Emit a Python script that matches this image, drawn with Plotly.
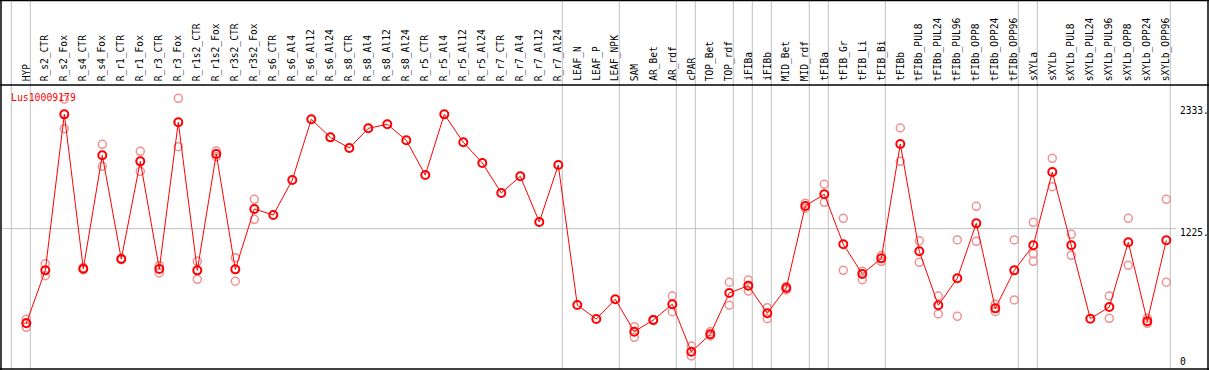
import plotly.graph_objects as go

categories = ["HYP", "R_s2_CTR", "R_s2_Fox", "R_s4_CTR", "R_s4_Fox", "R_r1_CTR", "R_r1_Fox",
              "R_r3_CTR", "R_r3_Fox", "R_r1s2_CTR", "R_r1s2_Fox", "R_r3s2_CTR", "R_r3s2_Fox",
              "R_s6_CTR", "R_s6_Al4", "R_s6_Al12", "R_s6_Al24", "R_s8_CTR", "R_s8_Al4", "R_s8_Al12",
              "R_s8_Al24", "R_r5_CTR", "R_r5_Al4", "R_r5_Al12", "R_r5_Al24", "R_r7_CTR", "R_r7_Al4",
              "R_r7_Al12", "R_r7_Al24", "LEAF_N", "LEAF_P", "LEAF_NPK", "SAM", "AR_Bet", "AR_rdf",
              "cPAR", "TOP_Bet", "TOP_rdf", "iFIBa", "iFIBb", "MID_Bet", "MID_rdf", "tFIBa",
              "tFIB_Gr", "tFIB_Li", "tFIB_Bi", "tFIBb", "tFIBb_PUL8", "tFIBb_PUL24", "tFIBb_PUL96",
              "tFIBb_OPP8", "tFIBb_OPP24", "tFIBb_OPP96", "sXYLa", "sXYLb", "sXYLb_PUL8",
              "sXYLb_PUL24", "sXYLb_PUL96", "sXYLb_OPP8", "sXYLb_OPP24", "sXYLb_OPP96"]

means = [365, 846, 2263, 861, 1891, 949, 1836, 858, 2191, 846, 1903, 855, 1403,
         1349, 1667, 2218, 2054, 1957, 2136, 2173, 2027, 1712, 2263, 2009, 1821, 1549, 1700,
         1285, 1803, 531, 404, 583, 289, 395, 538, 107, 265, 640, 707, 456, 686, 1431, 1537,
         1083, 813, 955, 1994, 1019, 529, 774, 1273, 501, 846, 1074, 1739, 1074, 407, 513,
         1101, 383, 1119]

replicates = [[401, 370, 329], [906, 797], [2400, 2133], [870, 852], [1991, 1791], [955, 943],
              [1927, 1746], [888, 822], [2409, 1969], [928, 765], [1930, 1878], [961, 747],
              [1491, 1310], [], [], [], [], [], [], [], [], [], [], [], [], [], [], [], [],
              [], [], [], [334, 238], [400, 390], [613, 470], [159, 68], [289, 250], [738, 529],
              [758, 658], [507, 407], [668, 700], [1455, 1410], [1628, 1464], [1319, 846],
              [839, 761], [928, 980], [2139, 1836], [1115, 919], [613, 450], [1122, 429],
              [1428, 1110], [538, 470], [1122, 577], [1282, 997, 928], [1864, 1606], [1173, 983],
              [], [613, 410], [1319, 892], [411, 365], [1491, 738]]

group_boundaries = [0, 1, 29, 32, 35, 36, 38, 39, 40, 42, 43, 46, 53, 54, 61]
y_ticks = [0, 1225, 2333]
y_tick_text = ["0", "1225.", "2333."]
gene_name = "Lus10009179"

W, H = 1209, 370
x_idx = list(range(len(categories)))

rx, ry = [], []
for i, reps in enumerate(replicates):
    for v in reps:
        rx.append(i)
        ry.append(v)

fig = go.Figure()
fig.add_trace(go.Scatter(x=rx, y=ry, mode="markers",
                         marker=dict(symbol="circle-open", size=8, color="rgb(238,145,145)",
                                     line=dict(width=1.5, color="rgb(238,145,145)")),
                         hoverinfo="skip", showlegend=False))
fig.add_trace(go.Scatter(x=x_idx, y=means, mode="lines+markers",
                         line=dict(color="#ff0000", width=1),
                         marker=dict(symbol="circle-open", size=8, color="#ff0000",
                                     line=dict(width=2, color="#ff0000")),
                         showlegend=False))

# pixel mapping: point i at px 26.3 + 19 i ; value v at py 363.5 - 0.1101 v
x_lo = (0 - 26.3) / 19
x_hi = (W - 26.3) / 19
y_lo = (363.5 - H) / 0.1101
y_hi = (363.5 - 0) / 0.1101

def pyp(py):
    return 1 - py / H

def pxp(px):
    return px / W

shapes = []
for k in group_boundaries:
    xb = k - 0.789
    shapes.append(dict(type="line", xref="x", yref="paper", x0=xb, x1=xb, y0=pyp(369), y1=1,
                       line=dict(color="#c0c0c0", width=1), layer="below"))
shapes.append(dict(type="line", xref="paper", yref="y", x0=pxp(1), x1=pxp(1176), y0=1225, y1=1225,
                   line=dict(color="#c0c0c0", width=1), layer="below"))
# frame
black = dict(color="#000000", width=1.5)
shapes += [
    dict(type="line", xref="paper", yref="paper", x0=0, x1=1, y0=pyp(0.5), y1=pyp(0.5), line=black),
    dict(type="line", xref="paper", yref="paper", x0=0, x1=1, y0=pyp(85), y1=pyp(85), line=black),
    dict(type="line", xref="paper", yref="paper", x0=0, x1=1, y0=pyp(369), y1=pyp(369), line=black),
    dict(type="line", xref="paper", yref="paper", x0=pxp(1), x1=pxp(1), y0=0, y1=1, line=black),
    dict(type="line", xref="paper", yref="paper", x0=pxp(1208), x1=pxp(1208), y0=0, y1=1, line=black),
]

font = "DejaVu Sans Mono"
annotations = []
for i, c in enumerate(categories):
    annotations.append(dict(x=i, y=pyp(83), xref="x", yref="paper", text=c, showarrow=False,
                            textangle=-90, xanchor="center", yanchor="bottom",
                            font=dict(family=font, size=9.6, color="#000000")))
for v, t in zip(y_ticks, y_tick_text):
    yy = v
    if v == 0:
        yy = (363.5 - 357.5) / 0.1101
    annotations.append(dict(x=pxp(1178), y=yy, xref="paper", yref="y", text=t, showarrow=False,
                            xanchor="left", yanchor="top", yshift=3.5,
                            font=dict(family=font, size=9.6, color="#000000")))
annotations.append(dict(x=pxp(9), y=pyp(91), xref="paper", yref="paper", text=gene_name,
                        showarrow=False, xanchor="left", yanchor="top", yshift=1,
                        font=dict(family=font, size=9.8, color="#ff0000")))

fig.update_layout(
    width=W, height=H, margin=dict(l=0, r=0, t=0, b=0),
    paper_bgcolor="white", plot_bgcolor="white",
    xaxis=dict(range=[x_lo, x_hi], visible=False, fixedrange=True),
    yaxis=dict(range=[y_lo, y_hi], visible=False, fixedrange=True),
    shapes=shapes, annotations=annotations,
)

fig.write_html("out.html", config={"displayModeBar": False},
               post_script="document.body.style.margin='0';document.body.style.overflow='hidden';")
